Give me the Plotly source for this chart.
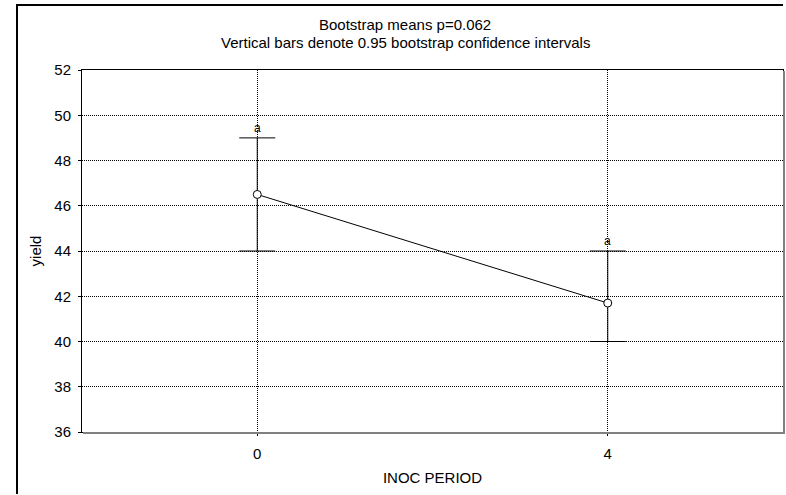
import plotly.graph_objects as go

categories = ["0", "4"]
means = [46.5, 41.7]
ci_low = [44.0, 40.0]
ci_high = [49.0, 44.0]
group_letters = ["a", "a"]
y_ticks = [36, 38, 40, 42, 44, 46, 48, 50, 52]

FONT = "Liberation Sans, Arial, sans-serif"
W, H = 786, 495
L, R, T, B = 82, 3, 70, 63
pw, ph = W - L - R, H - T - B

def px_x(px):
    return (px - L) / pw

def px_y(py):
    return (H - B - py) / ph

err_plus = [h - m for h, m in zip(ci_high, means)]
err_minus = [m - l for m, l in zip(means, ci_low)]

fig = go.Figure()
fig.add_trace(go.Scatter(
    x=categories, y=means, mode="lines+markers",
    line=dict(color="black", width=1),
    marker=dict(symbol="circle", size=8, color="white", line=dict(color="black", width=1)),
    error_y=dict(type="data", array=err_plus, arrayminus=err_minus,
                 color="black", thickness=1, width=18),
    showlegend=False, hoverinfo="skip",
))

# category axis: annotations placed by category index
letter_annotations = [
    dict(text=t, x=i, y=y, xref="x", yref="y", showarrow=False,
         xanchor="center", yanchor="bottom", yshift=1,
         font=dict(size=12, color="black"))
    for i, (y, t) in enumerate(zip(ci_high, group_letters))
]

fig.update_layout(
    width=W, height=H,
    margin=dict(l=L, r=R, t=T, b=B),
    paper_bgcolor="white", plot_bgcolor="white",
    font=dict(family=FONT, size=15, color="black"),
    xaxis=dict(
        type="category", range=[-0.5, 1.5],
        showgrid=True, gridcolor="black", gridwidth=1, griddash="1px,1px",
        showline=True, linecolor="black", linewidth=1, mirror=True,
        ticks="outside", ticklen=3, tickcolor="black",
        ticklabelstandoff=5,
        title=dict(text="INOC PERIOD", standoff=11, font=dict(size=15)),
        zeroline=False,
    ),
    yaxis=dict(
        range=[36, 52], tickvals=y_ticks,
        showgrid=True, gridcolor="black", gridwidth=1, griddash="1px,1px",
        showline=True, linecolor="black", linewidth=1, mirror=True,
        ticks="outside", ticklen=3, tickcolor="black",
        ticklabelstandoff=4,
        title=dict(text="yield", standoff=9, font=dict(size=15)),
        zeroline=False,
    ),
    annotations=letter_annotations + [
        dict(text="Bootstrap means p=0.062", xref="paper", yref="paper",
             x=px_x(405), y=px_y(25), showarrow=False, xanchor="center", yanchor="middle",
             font=dict(size=15)),
        dict(text="Vertical bars denote 0.95 bootstrap confidence intervals", xref="paper", yref="paper",
             x=px_x(405), y=px_y(43), showarrow=False, xanchor="center", yanchor="middle",
             font=dict(size=15)),
    ],
    shapes=[
        dict(type="line", xref="paper", yref="paper", x0=px_x(17), x1=px_x(17),
             y0=px_y(4), y1=px_y(494), line=dict(color="black", width=2)),
        dict(type="line", xref="paper", yref="paper", x0=px_x(16), x1=px_x(783),
             y0=px_y(5), y1=px_y(5), line=dict(color="black", width=2)),
        dict(type="line", xref="paper", yref="paper", x0=px_x(784), x1=px_x(784),
             y0=px_y(71), y1=px_y(433), line=dict(color="#808080", width=2)),
        dict(type="line", xref="paper", yref="paper", x0=px_x(83), x1=px_x(785),
             y0=px_y(433), y1=px_y(433), line=dict(color="#808080", width=2)),
    ],
)

fig.write_html("out.html")
